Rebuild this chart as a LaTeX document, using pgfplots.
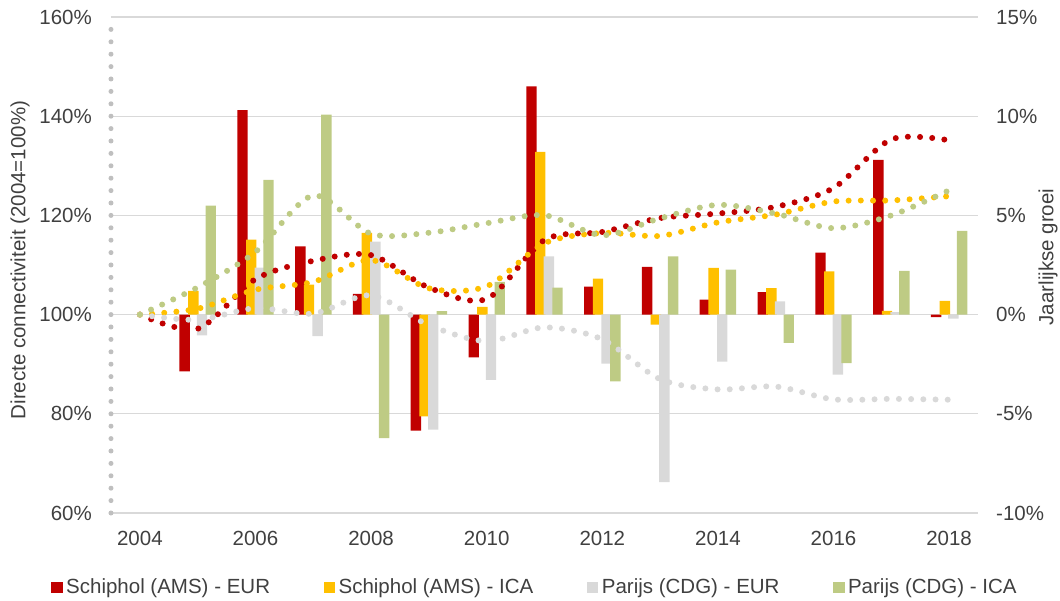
\documentclass[border=0pt]{standalone}
\usepackage{pgfplots}
\pgfplotsset{compat=1.18}
\usepackage{fontspec}
\setmainfont{Liberation Sans}
\definecolor{cRed}{RGB}{192,0,0}
\definecolor{cYel}{RGB}{255,192,0}
\definecolor{cGry}{RGB}{217,217,217}
\definecolor{cGrn}{RGB}{190,203,132}
\definecolor{cGrid}{RGB}{217,217,217}
\definecolor{cTxt}{RGB}{64,64,64}
\definecolor{cAx}{RGB}{191,191,191}
\newcommand{\lbl}{\fontsize{20.5bp}{24bp}\selectfont}
\begin{document}
\lbl
\begin{tikzpicture}
\useasboundingbox (-111bp,-88bp) rectangle (949bp,513bp);
\begin{axis}[
  at={(0,0)}, anchor=south west,
  scale only axis, width=867bp, height=496bp,
  xmin=-0.5, xmax=14.5, ymin=-10, ymax=15,
  axis x line*=bottom, axis y line*=right,
  x axis line style={draw=none}, y axis line style={draw=none},
  major tick length=0pt,
  xtick={0,2,...,14}, xticklabels={2004,2006,2008,2010,2012,2014,2016,2018},
  ytick={-10,-5,...,15},
  yticklabel={\pgfmathprintnumber{\tick}\%},
  /pgf/number format/assume math mode=true,
  ymajorgrids, grid style={draw=cGrid, line width=1.3bp},
  tick label style={font=\lbl, text=cTxt, inner sep=0pt},
  xticklabel style={anchor=north, yshift=-18bp},
  yticklabel style={anchor=west, xshift=18bp},
  every axis y label/.style={at={(axis description cs:1.0807,0.516)}, rotate=90, anchor=center, font=\lbl, text=cTxt},
  ylabel={Jaarlijkse groei},
  ybar, bar width=10.4bp,
  legend columns=4,
  legend image code/.code={\fill[#1] (0bp,-5.5bp) rectangle (11.5bp,6bp);},
  legend style={at={(axis description cs:-0.0692,-0.1502)}, anchor=west, draw=none, fill=none,
    inner sep=0pt, font=\lbl, text=cTxt, nodes={inner xsep=3.5bp, inner ysep=2bp},
    /tikz/every even column/.append style={column sep=50bp}},
]
\addplot[fill=cRed, draw=none, bar shift=-13bp] coordinates {(1,-2.86)(2,10.30)(3,3.44)(4,1.04)(5,-5.85)(6,-2.15)(7,11.50)(8,1.41)(9,2.40)(10,0.76)(11,1.13)(12,3.12)(13,7.80)(14,-0.13)};
\addlegendentry{Schiphol (AMS) - EUR}
\addplot[fill=cYel, draw=none, bar shift=-4.3bp] coordinates {(1,1.19)(2,3.78)(3,1.51)(4,4.12)(5,-5.13)(6,0.39)(7,8.20)(8,1.81)(9,-0.50)(10,2.35)(11,1.33)(12,2.18)(13,0.19)(14,0.69)};
\addlegendentry{Schiphol (AMS) - ICA}
\addplot[fill=cGry, draw=none, bar shift=4.3bp] coordinates {(1,-1.05)(2,2.37)(3,-1.09)(4,3.68)(5,-5.80)(6,-3.29)(7,2.94)(8,-2.47)(9,-8.45)(10,-2.37)(11,0.67)(12,-3.02)(13,0.12)(14,-0.20)};
\addlegendentry{Parijs (CDG) - EUR}
\addplot[fill=cGrn, draw=none, bar shift=13bp] coordinates {(1,5.49)(2,6.79)(3,10.08)(4,-6.22)(5,0.17)(6,1.65)(7,1.36)(8,-3.36)(9,2.94)(10,2.27)(11,-1.43)(12,-2.45)(13,2.20)(14,4.22)};
\addlegendentry{Parijs (CDG) - ICA}
\end{axis}
\begin{axis}[
  at={(0,0)}, anchor=south west,
  scale only axis, width=867bp, height=496bp,
  xmin=-0.5, xmax=14.5, ymin=60, ymax=160,
  axis x line=none, axis y line*=left,
  y axis line style={draw=cAx, line width=5bp, dash pattern=on 0pt off 12.4bp, line cap=round},
  major tick length=0pt,
  ytick={60,80,...,160},
  yticklabel={\pgfmathprintnumber{\tick}\%},
  /pgf/number format/assume math mode=true,
  tick label style={font=\lbl, text=cTxt, inner sep=0pt},
  yticklabel style={anchor=east, xshift=-19bp},
  every axis y label/.style={at={(axis description cs:-0.105,0.51)}, rotate=90, anchor=center, font=\lbl, text=cTxt},
  ylabel={Directe connectiviteit (2004=100\%)},
  every axis plot/.append style={smooth, line width=6bp, dash pattern=on 0pt off 12.2bp, line cap=round},
]
\addplot[cRed] coordinates {(0,100)(1,97.14)(2,107.15)(3,110.84)(4,111.99)(5,105.44)(6,103.17)(7,115.04)(8,116.66)(9,119.46)(10,120.37)(11,121.73)(12,125.53)(13,135.32)(14,135.14)};
\addplot[cYel] coordinates {(0,100)(1,101.19)(2,105.01)(3,106.60)(4,110.99)(5,105.30)(6,105.71)(7,114.38)(8,116.45)(9,115.87)(10,118.59)(11,120.17)(12,122.79)(13,123.02)(14,123.87)};
\addplot[cGry] coordinates {(0,100)(1,98.95)(2,101.30)(3,100.20)(4,103.89)(5,97.86)(6,94.64)(7,97.42)(8,95.01)(9,86.98)(10,84.92)(11,85.49)(12,82.91)(13,83.01)(14,82.84)};
\addplot[cGrn] coordinates {(0,100)(1,105.49)(2,112.65)(3,124.01)(4,116.30)(5,116.50)(6,118.42)(7,120.03)(8,116.00)(9,119.41)(10,122.12)(11,120.37)(12,117.42)(13,120.00)(14,125.06)};
\end{axis}
\end{tikzpicture}
\end{document}
